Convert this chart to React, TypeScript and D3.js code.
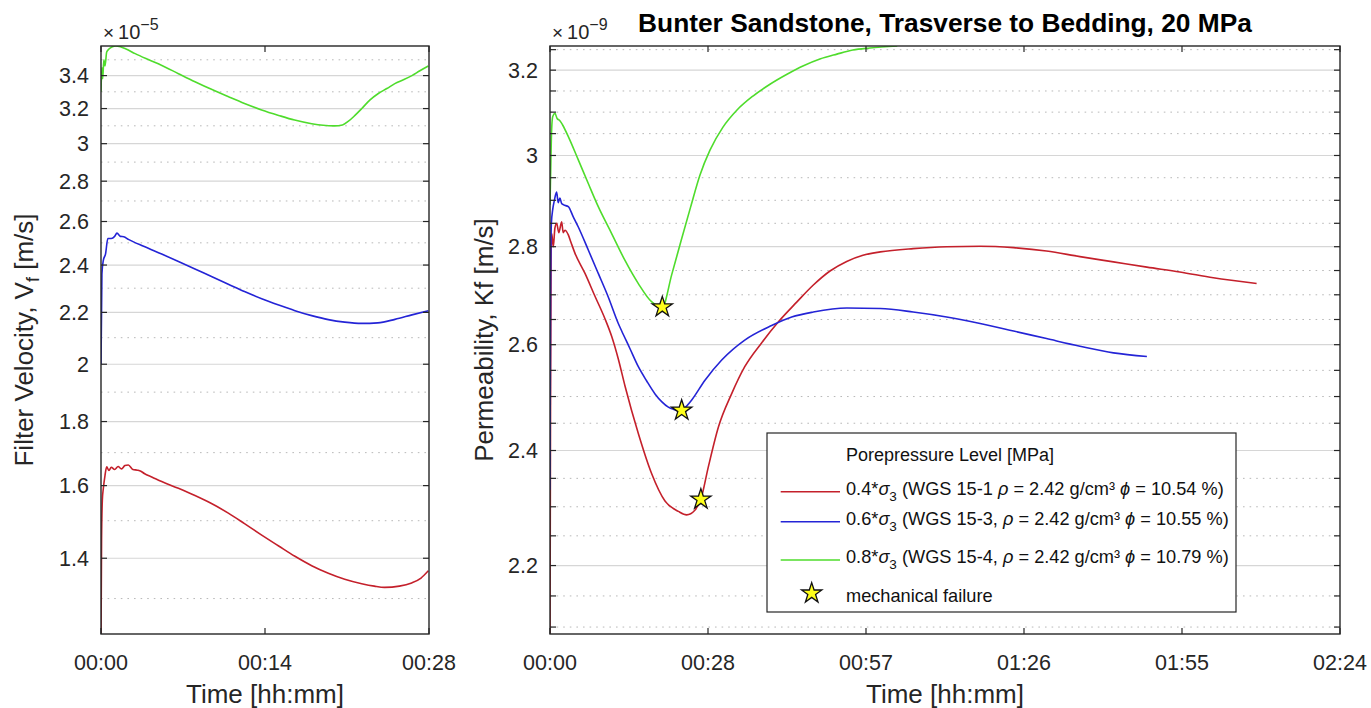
import React from "react";
import * as d3 from "d3";

// ---- time axes (minutes) ----
const velocityTimeTicks = [0, 14.4, 28.8];
const velocityTimeLabels = ["00:00", "00:14", "00:28"];
const permTimeTicks = [0, 28.8, 57.6, 86.4, 115.2, 144];
const permTimeLabels = ["00:00", "00:28", "00:57", "01:26", "01:55", "02:24"];

// ---- value axes ----
const velocityMajor = [1.4, 1.6, 1.8, 2.0, 2.2, 2.4, 2.6, 2.8, 3.0, 3.2, 3.4];
const velocityMinor = [1.3, 1.5, 1.7, 1.9, 2.1, 2.3, 2.5, 2.7, 2.9, 3.1, 3.3, 3.5];
const permMajor = [2.2, 2.4, 2.6, 2.8, 3.0, 3.2];
const permMinor = [2.1, 2.15, 2.25, 2.3, 2.35, 2.45, 2.5, 2.55, 2.65, 2.7, 2.75, 2.85, 2.9, 2.95, 3.05, 3.1, 3.15, 3.25];

// ---- filter velocity [1e-5 m/s] vs time [min] ----
const velocity04: [number, number][] = [
  [0, 1.2], [0.05, 1.45], [0.12, 1.56], [0.2, 1.59], [0.35, 1.63], [0.5, 1.656], [0.7, 1.645],
  [0.9, 1.655], [1.2, 1.648], [1.5, 1.657], [1.8, 1.65], [2.1, 1.66], [2.4, 1.662], [2.8, 1.648],
  [3.2, 1.646], [3.5, 1.643], [3.8, 1.636], [4.5, 1.625], [5.33, 1.612], [6.8, 1.592], [8.25, 1.571],
  [9.7, 1.548], [11.18, 1.521], [12.6, 1.492], [14.11, 1.461], [15.6, 1.432], [17.03, 1.405],
  [18.5, 1.381], [19.96, 1.362], [21.4, 1.347], [22.89, 1.336], [24.0, 1.33], [24.9, 1.327],
  [26.2, 1.33], [27.28, 1.338], [28.1, 1.35], [28.74, 1.368],
];
const velocity06: [number, number][] = [
  [0, 2.0], [0.08, 2.36], [0.2, 2.42], [0.4, 2.45], [0.6, 2.52], [0.9, 2.52], [1.2, 2.53],
  [1.4, 2.545], [1.7, 2.53], [2.0, 2.528], [2.4, 2.516], [3.8, 2.483], [5.33, 2.449], [6.8, 2.416],
  [8.25, 2.383], [9.7, 2.35], [11.18, 2.317], [12.6, 2.286], [14.11, 2.256], [15.6, 2.23],
  [17.03, 2.207], [18.5, 2.187], [19.96, 2.171], [21.4, 2.161], [22.89, 2.156], [24.3, 2.158],
  [25.81, 2.172], [27.3, 2.19], [28.74, 2.207],
];
const velocity08: [number, number][] = [
  [0, 3.3], [0.08, 3.45], [0.15, 3.38], [0.25, 3.5], [0.35, 3.46], [0.5, 3.55], [0.7, 3.57],
  [1.0, 3.585], [1.3, 3.59], [1.7, 3.585], [2.2, 3.57], [3.0, 3.54], [4.2, 3.5], [5.3, 3.465],
  [6.8, 3.412], [8.25, 3.362], [9.7, 3.315], [11.2, 3.27], [12.6, 3.23], [14.1, 3.192], [15.6, 3.16],
  [17.0, 3.133], [18.5, 3.112], [19.5, 3.103], [20.5, 3.1], [21.2, 3.105], [21.7, 3.125], [22.3, 3.16],
  [22.9, 3.2], [23.6, 3.25], [24.35, 3.29], [25.1, 3.32], [25.8, 3.35], [26.6, 3.375], [27.3, 3.4],
  [28.0, 3.43], [28.74, 3.46],
];

// ---- permeability [1e-9 m/s] vs time [min] ----
const perm04: [number, number][] = [
  [0, 2.07], [0.1, 2.5], [0.2, 2.78], [0.31, 2.828], [0.6, 2.8], [0.9, 2.84], [1.22, 2.85],
  [1.6, 2.83], [2.13, 2.853], [2.4, 2.83], [2.73, 2.835], [3.34, 2.825], [3.8, 2.81], [4.56, 2.786],
  [6.38, 2.744], [8.2, 2.697], [10.0, 2.652], [11.25, 2.616], [12.45, 2.572], [13.67, 2.52],
  [16.1, 2.431], [18.5, 2.359], [20.96, 2.31], [23.4, 2.292], [24.9, 2.286], [26.4, 2.294],
  [27.5, 2.313], [28.85, 2.37], [30.7, 2.443], [33.1, 2.505], [35.5, 2.557], [38.6, 2.604],
  [41.6, 2.645], [44.97, 2.685], [48.0, 2.72], [51.04, 2.749], [54.08, 2.769], [57.05, 2.782],
  [60.2, 2.789], [66.2, 2.796], [72.3, 2.8], [78.4, 2.801], [84.5, 2.798], [90.5, 2.791],
  [96.6, 2.779], [102.7, 2.768], [108.8, 2.757], [114.8, 2.747], [120.9, 2.735], [128.8, 2.723],
];
const perm06: [number, number][] = [
  [0, 2.33], [0.1, 2.7], [0.25, 2.85], [0.5, 2.88], [0.8, 2.9], [1.2, 2.918], [1.5, 2.895],
  [1.8, 2.905], [2.13, 2.893], [2.5, 2.89], [3.34, 2.886], [4.2, 2.865], [5.16, 2.842],
  [6.98, 2.793], [8.8, 2.744], [10.6, 2.696], [12.45, 2.642], [13.07, 2.627], [14.5, 2.594],
  [16.1, 2.557], [17.6, 2.53], [19.14, 2.505], [20.4, 2.49], [21.57, 2.48], [22.5, 2.476],
  [23.4, 2.474], [24.0, 2.474], [24.9, 2.482], [25.8, 2.493], [28.25, 2.531], [31.3, 2.57],
  [35.5, 2.609], [40.4, 2.638], [44.05, 2.655], [48.0, 2.665], [54.1, 2.673], [60.2, 2.672],
  [66.2, 2.665], [72.3, 2.655], [78.4, 2.642], [84.5, 2.627], [90.5, 2.612], [96.6, 2.597],
  [102.7, 2.584], [108.8, 2.577],
];
const perm08: [number, number][] = [
  [0, 2.89], [0.15, 2.98], [0.3, 3.06], [0.5, 3.09], [0.9, 3.097], [1.3, 3.085], [1.8, 3.08],
  [2.3, 3.07], [3.34, 3.043], [5.16, 2.99], [6.98, 2.937], [8.8, 2.886], [11.24, 2.828],
  [13.67, 2.771], [16.1, 2.723], [18.5, 2.686], [20.47, 2.675], [22.2, 2.742], [23.88, 2.812],
  [25.6, 2.884], [27.34, 2.956], [29.16, 3.012], [31.53, 3.065], [34.09, 3.105], [37.0, 3.138],
  [40.1, 3.166], [43.2, 3.19], [46.1, 3.21], [49.2, 3.227], [52.3, 3.239], [55.2, 3.249],
  [58.3, 3.254], [63.3, 3.259],
];

// mechanical failure points on the permeability curves
const failurePoints: [number, number][] = [[27.5, 2.313], [24.0, 2.474], [20.47, 2.675]];

const seriesColors = ["#c4202b", "#2424d6", "#4fdc2c"];
const legendLabels = [
  { lvl: "0.4*", sample: " (WGS 15-1 ", phi: " = 10.54 %)" },
  { lvl: "0.6*", sample: " (WGS 15-3, ", phi: " = 10.55 %)" },
  { lvl: "0.8*", sample: " (WGS 15-4, ", phi: " = 10.79 %)" },
];

const FONT = "'Liberation Sans', Arial, Helvetica, sans-serif";
const TICK_COLOR = "#262626";

const top = 46;
const bottom = 634;

const fmt = (v: number) => String(+v.toFixed(2));

function Panel(props: {
  id: string;
  x0: number;
  x1: number;
  xMax: number;
  yDomain: [number, number];
  timeTicks: number[];
  timeLabels: string[];
  major: number[];
  minor: number[];
  minorTicks: boolean;
  series: [number, number][][];
  exponent: string;
  ylabel: React.ReactNode;
  ylabelX: number;
  children?: (x: d3.ScaleLinear<number, number>, y: d3.ScaleLogarithmic<number, number>) => React.ReactNode;
}) {
  const x = d3.scaleLinear().domain([0, props.xMax]).range([props.x0, props.x1]);
  const y = d3.scaleLog().domain(props.yDomain).range([bottom, top]);
  const line = d3
    .line<[number, number]>()
    .x((d) => x(d[0]))
    .y((d) => y(d[1]))
    .curve(d3.curveMonotoneX);
  const tickLen = 6;
  const yTicks = props.minorTicks ? [...props.major, ...props.minor] : props.major;
  const cx = (props.x0 + props.x1) / 2;
  return (
    <g>
      <defs>
        <clipPath id={props.id}>
          <rect x={props.x0} y={top} width={props.x1 - props.x0} height={bottom - top} />
        </clipPath>
      </defs>
      <rect x={props.x0} y={top} width={props.x1 - props.x0} height={bottom - top} fill="#fff" />
      {/* minor grid */}
      {props.minor.map((v) => (
        <line key={"mn" + v} x1={props.x0} x2={props.x1} y1={y(v)} y2={y(v)}
          stroke="#b8b8b8" strokeWidth={1} strokeDasharray="1.6 5" />
      ))}
      {/* major grid */}
      {props.major.map((v) => (
        <line key={"mj" + v} x1={props.x0} x2={props.x1} y1={y(v)} y2={y(v)}
          stroke="#d6d6d6" strokeWidth={1.2} />
      ))}
      <g clipPath={`url(#${props.id})`}>
        {props.series.map((s, i) => (
          <path key={i} d={line(s) || ""} fill="none" stroke={seriesColors[i]} strokeWidth={1.6}
            strokeLinejoin="round" />
        ))}
      </g>
      {props.children && props.children(x, y)}
      {/* frame */}
      <rect x={props.x0} y={top} width={props.x1 - props.x0} height={bottom - top}
        fill="none" stroke="#262626" strokeWidth={1.4} />
      {/* y ticks */}
      {yTicks.map((v) => (
        <g key={"yt" + v}>
          <line x1={props.x0} x2={props.x0 + tickLen} y1={y(v)} y2={y(v)} stroke="#262626" strokeWidth={1.2} />
          <line x1={props.x1} x2={props.x1 - tickLen} y1={y(v)} y2={y(v)} stroke="#262626" strokeWidth={1.2} />
        </g>
      ))}
      {props.major.map((v) => (
        <text key={"yl" + v} x={props.x0 - 12} y={y(v) + 7.7} textAnchor="end"
          fontFamily={FONT} fontSize={21.5} fill={TICK_COLOR}>{fmt(v)}</text>
      ))}
      {/* x ticks */}
      {props.timeTicks.map((t, i) => (
        <g key={"xt" + t}>
          <line x1={x(t)} x2={x(t)} y1={bottom} y2={bottom - tickLen} stroke="#262626" strokeWidth={1.2} />
          <line x1={x(t)} x2={x(t)} y1={top} y2={top + tickLen} stroke="#262626" strokeWidth={1.2} />
          <text x={x(t)} y={670} textAnchor="middle" fontFamily={FONT} fontSize={21.5}
            fill={TICK_COLOR}>{props.timeLabels[i]}</text>
        </g>
      ))}
      {/* exponent */}
      <text x={props.x0 + 2} y={39} fontFamily={FONT} fontSize={20} fill={TICK_COLOR}>
        <tspan fontSize={19}>×</tspan>
        <tspan dx={4}>10</tspan>
        <tspan dy={-9} fontSize={16}>{props.exponent}</tspan>
      </text>
      <text x={cx} y={703} textAnchor="middle" fontFamily={FONT} fontSize={26} fill={TICK_COLOR}>
        Time [hh:mm]
      </text>
      <text transform={`translate(${props.ylabelX},${(top + bottom) / 2}) rotate(-90)`}
        textAnchor="middle" fontFamily={FONT} fontSize={26} fill={TICK_COLOR}>
        {props.ylabel}
      </text>
    </g>
  );
}

const starPath = d3.symbol(d3.symbolStar, 128)() || "";

export default function App() {
  const legendX0 = 767;
  const legendY0 = 433;
  const rowLineY = [491.7, 521.7, 560];
  const rowTextY = [495, 525, 563];
  return (
    <svg width={1371} height={708} style={{ position: "absolute", left: 0, top: 0, background: "#fff" }}>
      <rect width={1371} height={708} fill="#fff" />
      <Panel
        id="clipVelocity"
        x0={101}
        x1={429}
        xMax={28.8}
        yDomain={[1.218, 3.59]}
        timeTicks={velocityTimeTicks}
        timeLabels={velocityTimeLabels}
        major={velocityMajor}
        minor={velocityMinor}
        minorTicks={false}
        series={[velocity04, velocity06, velocity08]}
        exponent="−5"
        ylabelX={33}
        ylabel={
          <>
            Filter Velocity, V<tspan dy={6} fontSize={18}>f</tspan>
            <tspan dy={-6}> [m/s]</tspan>
          </>
        }
      />
      <Panel
        id="clipPerm"
        x0={550}
        x1={1340}
        xMax={144}
        yDomain={[2.089, 3.259]}
        timeTicks={permTimeTicks}
        timeLabels={permTimeLabels}
        major={permMajor}
        minor={permMinor}
        minorTicks={true}
        series={[perm04, perm06, perm08]}
        exponent="−9"
        ylabelX={493}
        ylabel={<>Permeability, Kf [m/s]</>}
      >
        {(x, y) => (
          <g>
            {failurePoints.map((p, i) => (
              <path key={i} d={starPath} transform={`translate(${x(p[0])},${y(p[1])})`}
                fill="#ffff1a" stroke="#111" strokeWidth={1.3} strokeLinejoin="miter" />
            ))}
          </g>
        )}
      </Panel>

      <text x={945} y={32} textAnchor="middle" fontFamily={FONT} fontSize={26.3} fontWeight="bold" fill="#000">
        Bunter Sandstone, Trasverse to Bedding, 20 MPa
      </text>

      {/* legend */}
      <g fontFamily={FONT} fontSize={18.2} fill="#111">
        <rect x={legendX0} y={legendY0} width={1236 - legendX0} height={612 - legendY0}
          fill="#fff" stroke="#262626" strokeWidth={1.2} />
        <text x={846} y={461} fontSize={18}>Porepressure Level [MPa]</text>
        {legendLabels.map((l, i) => (
          <g key={i}>
            <line x1={780.7} x2={840} y1={rowLineY[i]} y2={rowLineY[i]} stroke={seriesColors[i]} strokeWidth={1.6} />
            <text x={846} y={rowTextY[i]}>
              {l.lvl}
              <tspan fontStyle="italic">σ</tspan>
              <tspan dy={6} fontSize={13.5}>3</tspan>
              <tspan dy={-6}>{l.sample}</tspan>
              <tspan fontStyle="italic">ρ</tspan>
              <tspan> = 2.42 g/cm³ </tspan>
              <tspan fontStyle="italic">ϕ</tspan>
              <tspan>{l.phi}</tspan>
            </text>
          </g>
        ))}
        <path d={starPath} transform="translate(811.7,593.3)" fill="#ffff1a" stroke="#111" strokeWidth={1.3} />
        <text x={846} y={601.5}>mechanical failure</text>
      </g>
    </svg>
  );
}
